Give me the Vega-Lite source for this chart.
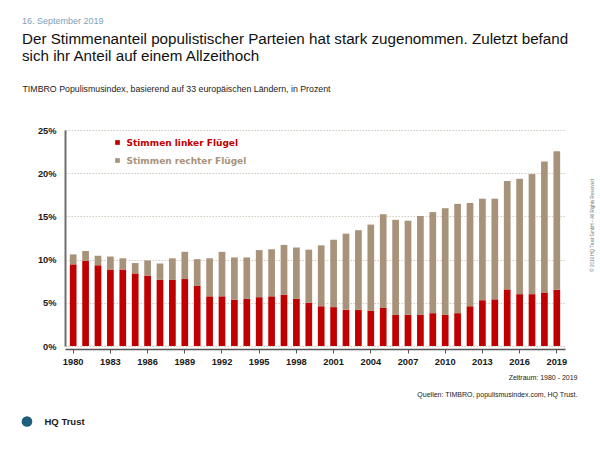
{
  "$schema": "https://vega.github.io/schema/vega-lite/v6.json",
  "width": 500,
  "height": 216,
  "autosize": {"type": "none"},
  "padding": {"left": 65, "top": 130, "right": 35, "bottom": 104},
  "background": "white",
  "config": {"view": {"stroke": null}, "font": "Liberation Sans"},
  "title": {
    "text": "16. September 2019",
    "subtitle": ["Der Stimmenanteil populistischer Parteien hat stark zugenommen. Zuletzt befand", "sich ihr Anteil auf einem Allzeithoch"],
    "anchor": "start",
    "frame": "group",
    "dx": -43,
    "offset": 20,
    "font": "Liberation Sans",
    "fontSize": 9,
    "fontWeight": "normal",
    "color": "#7FA0B8",
    "subtitleFont": "Liberation Sans",
    "subtitleFontSize": 15.2,
    "subtitleColor": "#111111",
    "subtitleLineHeight": 16.5,
    "subtitlePadding": 6
  },
  "layer": [
    {
      "data": {"values": [
        {"Jahr":1980,"Gruppe":"Stimmen linker Flügel","Anteil":9.45},{"Jahr":1980,"Gruppe":"Stimmen rechter Flügel","Anteil":1.15},
        {"Jahr":1981,"Gruppe":"Stimmen linker Flügel","Anteil":9.85},{"Jahr":1981,"Gruppe":"Stimmen rechter Flügel","Anteil":1.15},
        {"Jahr":1982,"Gruppe":"Stimmen linker Flügel","Anteil":9.35},{"Jahr":1982,"Gruppe":"Stimmen rechter Flügel","Anteil":1.1},
        {"Jahr":1983,"Gruppe":"Stimmen linker Flügel","Anteil":8.85},{"Jahr":1983,"Gruppe":"Stimmen rechter Flügel","Anteil":1.5},
        {"Jahr":1984,"Gruppe":"Stimmen linker Flügel","Anteil":8.85},{"Jahr":1984,"Gruppe":"Stimmen rechter Flügel","Anteil":1.3},
        {"Jahr":1985,"Gruppe":"Stimmen linker Flügel","Anteil":8.4},{"Jahr":1985,"Gruppe":"Stimmen rechter Flügel","Anteil":1.2},
        {"Jahr":1986,"Gruppe":"Stimmen linker Flügel","Anteil":8.15},{"Jahr":1986,"Gruppe":"Stimmen rechter Flügel","Anteil":1.75},
        {"Jahr":1987,"Gruppe":"Stimmen linker Flügel","Anteil":7.65},{"Jahr":1987,"Gruppe":"Stimmen rechter Flügel","Anteil":1.9},
        {"Jahr":1988,"Gruppe":"Stimmen linker Flügel","Anteil":7.65},{"Jahr":1988,"Gruppe":"Stimmen rechter Flügel","Anteil":2.5},
        {"Jahr":1989,"Gruppe":"Stimmen linker Flügel","Anteil":7.75},{"Jahr":1989,"Gruppe":"Stimmen rechter Flügel","Anteil":3.15},
        {"Jahr":1990,"Gruppe":"Stimmen linker Flügel","Anteil":6.95},{"Jahr":1990,"Gruppe":"Stimmen rechter Flügel","Anteil":3.1},
        {"Jahr":1991,"Gruppe":"Stimmen linker Flügel","Anteil":5.75},{"Jahr":1991,"Gruppe":"Stimmen rechter Flügel","Anteil":4.4},
        {"Jahr":1992,"Gruppe":"Stimmen linker Flügel","Anteil":5.75},{"Jahr":1992,"Gruppe":"Stimmen rechter Flügel","Anteil":5.15},
        {"Jahr":1993,"Gruppe":"Stimmen linker Flügel","Anteil":5.35},{"Jahr":1993,"Gruppe":"Stimmen rechter Flügel","Anteil":4.9},
        {"Jahr":1994,"Gruppe":"Stimmen linker Flügel","Anteil":5.45},{"Jahr":1994,"Gruppe":"Stimmen rechter Flügel","Anteil":4.8},
        {"Jahr":1995,"Gruppe":"Stimmen linker Flügel","Anteil":5.65},{"Jahr":1995,"Gruppe":"Stimmen rechter Flügel","Anteil":5.45},
        {"Jahr":1996,"Gruppe":"Stimmen linker Flügel","Anteil":5.75},{"Jahr":1996,"Gruppe":"Stimmen rechter Flügel","Anteil":5.45},
        {"Jahr":1997,"Gruppe":"Stimmen linker Flügel","Anteil":5.95},{"Jahr":1997,"Gruppe":"Stimmen rechter Flügel","Anteil":5.75},
        {"Jahr":1998,"Gruppe":"Stimmen linker Flügel","Anteil":5.45},{"Jahr":1998,"Gruppe":"Stimmen rechter Flügel","Anteil":5.95},
        {"Jahr":1999,"Gruppe":"Stimmen linker Flügel","Anteil":5.0},{"Jahr":1999,"Gruppe":"Stimmen rechter Flügel","Anteil":6.15},
        {"Jahr":2000,"Gruppe":"Stimmen linker Flügel","Anteil":4.6},{"Jahr":2000,"Gruppe":"Stimmen rechter Flügel","Anteil":7.05},
        {"Jahr":2001,"Gruppe":"Stimmen linker Flügel","Anteil":4.5},{"Jahr":2001,"Gruppe":"Stimmen rechter Flügel","Anteil":7.8},
        {"Jahr":2002,"Gruppe":"Stimmen linker Flügel","Anteil":4.2},{"Jahr":2002,"Gruppe":"Stimmen rechter Flügel","Anteil":8.8},
        {"Jahr":2003,"Gruppe":"Stimmen linker Flügel","Anteil":4.2},{"Jahr":2003,"Gruppe":"Stimmen rechter Flügel","Anteil":9.2},
        {"Jahr":2004,"Gruppe":"Stimmen linker Flügel","Anteil":4.1},{"Jahr":2004,"Gruppe":"Stimmen rechter Flügel","Anteil":9.95},
        {"Jahr":2005,"Gruppe":"Stimmen linker Flügel","Anteil":4.4},{"Jahr":2005,"Gruppe":"Stimmen rechter Flügel","Anteil":10.85},
        {"Jahr":2006,"Gruppe":"Stimmen linker Flügel","Anteil":3.6},{"Jahr":2006,"Gruppe":"Stimmen rechter Flügel","Anteil":11.0},
        {"Jahr":2007,"Gruppe":"Stimmen linker Flügel","Anteil":3.6},{"Jahr":2007,"Gruppe":"Stimmen rechter Flügel","Anteil":10.9},
        {"Jahr":2008,"Gruppe":"Stimmen linker Flügel","Anteil":3.6},{"Jahr":2008,"Gruppe":"Stimmen rechter Flügel","Anteil":11.45},
        {"Jahr":2009,"Gruppe":"Stimmen linker Flügel","Anteil":3.8},{"Jahr":2009,"Gruppe":"Stimmen rechter Flügel","Anteil":11.7},
        {"Jahr":2010,"Gruppe":"Stimmen linker Flügel","Anteil":3.6},{"Jahr":2010,"Gruppe":"Stimmen rechter Flügel","Anteil":12.35},
        {"Jahr":2011,"Gruppe":"Stimmen linker Flügel","Anteil":3.8},{"Jahr":2011,"Gruppe":"Stimmen rechter Flügel","Anteil":12.65},
        {"Jahr":2012,"Gruppe":"Stimmen linker Flügel","Anteil":4.6},{"Jahr":2012,"Gruppe":"Stimmen rechter Flügel","Anteil":11.95},
        {"Jahr":2013,"Gruppe":"Stimmen linker Flügel","Anteil":5.3},{"Jahr":2013,"Gruppe":"Stimmen rechter Flügel","Anteil":11.75},
        {"Jahr":2014,"Gruppe":"Stimmen linker Flügel","Anteil":5.4},{"Jahr":2014,"Gruppe":"Stimmen rechter Flügel","Anteil":11.65},
        {"Jahr":2015,"Gruppe":"Stimmen linker Flügel","Anteil":6.55},{"Jahr":2015,"Gruppe":"Stimmen rechter Flügel","Anteil":12.55},
        {"Jahr":2016,"Gruppe":"Stimmen linker Flügel","Anteil":6.0},{"Jahr":2016,"Gruppe":"Stimmen rechter Flügel","Anteil":13.35},
        {"Jahr":2017,"Gruppe":"Stimmen linker Flügel","Anteil":6.0},{"Jahr":2017,"Gruppe":"Stimmen rechter Flügel","Anteil":13.9},
        {"Jahr":2018,"Gruppe":"Stimmen linker Flügel","Anteil":6.2},{"Jahr":2018,"Gruppe":"Stimmen rechter Flügel","Anteil":15.15},
        {"Jahr":2019,"Gruppe":"Stimmen linker Flügel","Anteil":6.5},{"Jahr":2019,"Gruppe":"Stimmen rechter Flügel","Anteil":16.05}
      ]},
      "mark": {"type": "bar"},
      "encoding": {
        "x": {
          "field": "Jahr", "type": "ordinal",
          "scale": {"paddingInner": 0.46, "paddingOuter": 0.39},
          "axis": {
            "values": [1980, 1983, 1986, 1989, 1992, 1995, 1998, 2001, 2004, 2007, 2010, 2013, 2016, 2019],
            "labelAngle": 0,
            "offset": 3,
            "domainColor": "#555555",
            "domainWidth": 1.5,
            "tickColor": "#555555",
            "tickSize": 4,
            "labelPadding": 4,
            "labelFont": "Liberation Sans",
            "labelFontWeight": "bold",
            "labelFontSize": 9.3,
            "labelColor": "#1a1a1a",
            "title": ["Zeitraum: 1980 - 2019", "Quellen:  TIMBRO, populismusindex.com,  HQ Trust."],
            "titleX": 512,
            "titleY": 30,
            "titleAlign": "right",
            "titleAnchor": null,
            "titleBaseline": "alphabetic",
            "titleLineHeight": 17,
            "titleFont": "Liberation Sans",
            "titleFontSize": 7,
            "titleFontWeight": "normal",
            "titleColor": "#222222"
          }
        },
        "y": {
          "field": "Anteil", "type": "quantitative", "stack": "zero",
          "scale": {"domain": [0, 25], "nice": false},
          "axis": {
            "values": [0, 5, 10, 15, 20, 25],
            "labelExpr": "datum.value + '%'",
            "ticks": false,
            "domainColor": "#6E6E6E",
            "domainWidth": 2,
            "grid": true,
            "gridColor": "#D2CABC",
            "gridDash": [1.5, 1.5],
            "gridWidth": 1,
            "labelPadding": 9,
            "labelFont": "Liberation Sans",
            "labelFontWeight": "bold",
            "labelFontSize": 9.3,
            "labelColor": "#1a1a1a",
            "title": "TIMBRO Populismusindex, basierend auf 33 europäischen Ländern, in Prozent",
            "titleAngle": 0,
            "titleAlign": "left",
            "titleBaseline": "alphabetic",
            "titleX": -43,
            "titleY": -39,
            "titleFont": "Liberation Sans",
            "titleFontSize": 8.8,
            "titleFontWeight": "normal",
            "titleColor": "#222222"
          }
        },
        "color": {
          "field": "Gruppe", "type": "nominal",
          "scale": {"domain": ["Stimmen linker Flügel", "Stimmen rechter Flügel"], "range": ["#C00000", "#A89279"]},
          "legend": {
            "orient": "none",
            "legendX": 48,
            "legendY": 8,
            "title": null,
            "padding": 0,
            "symbolType": "square",
            "symbolSize": 22,
            "symbolStrokeWidth": 0,
            "labelOffset": 4.5,
            "rowPadding": 8,
            "labelFont": "DejaVu Sans",
            "labelFontWeight": "bold",
            "labelFontSize": 9,
            "encode": {"labels": {"update": {"fill": {"signal": "indexof(datum.label, 'linker') >= 0 ? '#C00000' : '#A89279'"}}}}
          }
        },
        "order": {"field": "Gruppe", "sort": "ascending"}
      }
    },
    {
      "data": {"values": [{"Marke": "HQ Trust"}]},
      "mark": {"type": "point", "opacity": 0, "filled": true, "color": "#1E5E7A"},
      "encoding": {
        "y": {
          "datum": 0, "type": "quantitative",
          "axis": {
            "orient": "right",
            "domain": false, "ticks": false, "labels": false, "grid": false,
            "title": "© 2019 HQ Trust GmbH – All Rights Reserved",
            "titleAngle": 270,
            "titleX": 27,
            "titleY": 95,
            "titleAlign": "center",
            "titleBaseline": "middle",
            "titleFont": "Liberation Sans",
            "titleFontSize": 4.5,
            "titleFontWeight": "normal",
            "titleColor": "#777777"
          }
        },
        "shape": {
          "field": "Marke", "type": "nominal",
          "scale": {"range": ["circle"]},
          "legend": {
            "orient": "none",
            "legendX": -43.5,
            "legendY": 286,
            "title": null,
            "padding": 0,
            "symbolSize": 113,
            "symbolFillColor": "#1E5E7A",
            "symbolStrokeWidth": 0,
            "symbolOpacity": 1,
            "labelOffset": 12,
            "labelFont": "Liberation Sans",
            "labelFontSize": 9.5,
            "labelFontWeight": "bold",
            "labelColor": "#1a1a1a"
          }
        }
      }
    }
  ],
  "resolve": {"axis": {"y": "independent"}}
}
